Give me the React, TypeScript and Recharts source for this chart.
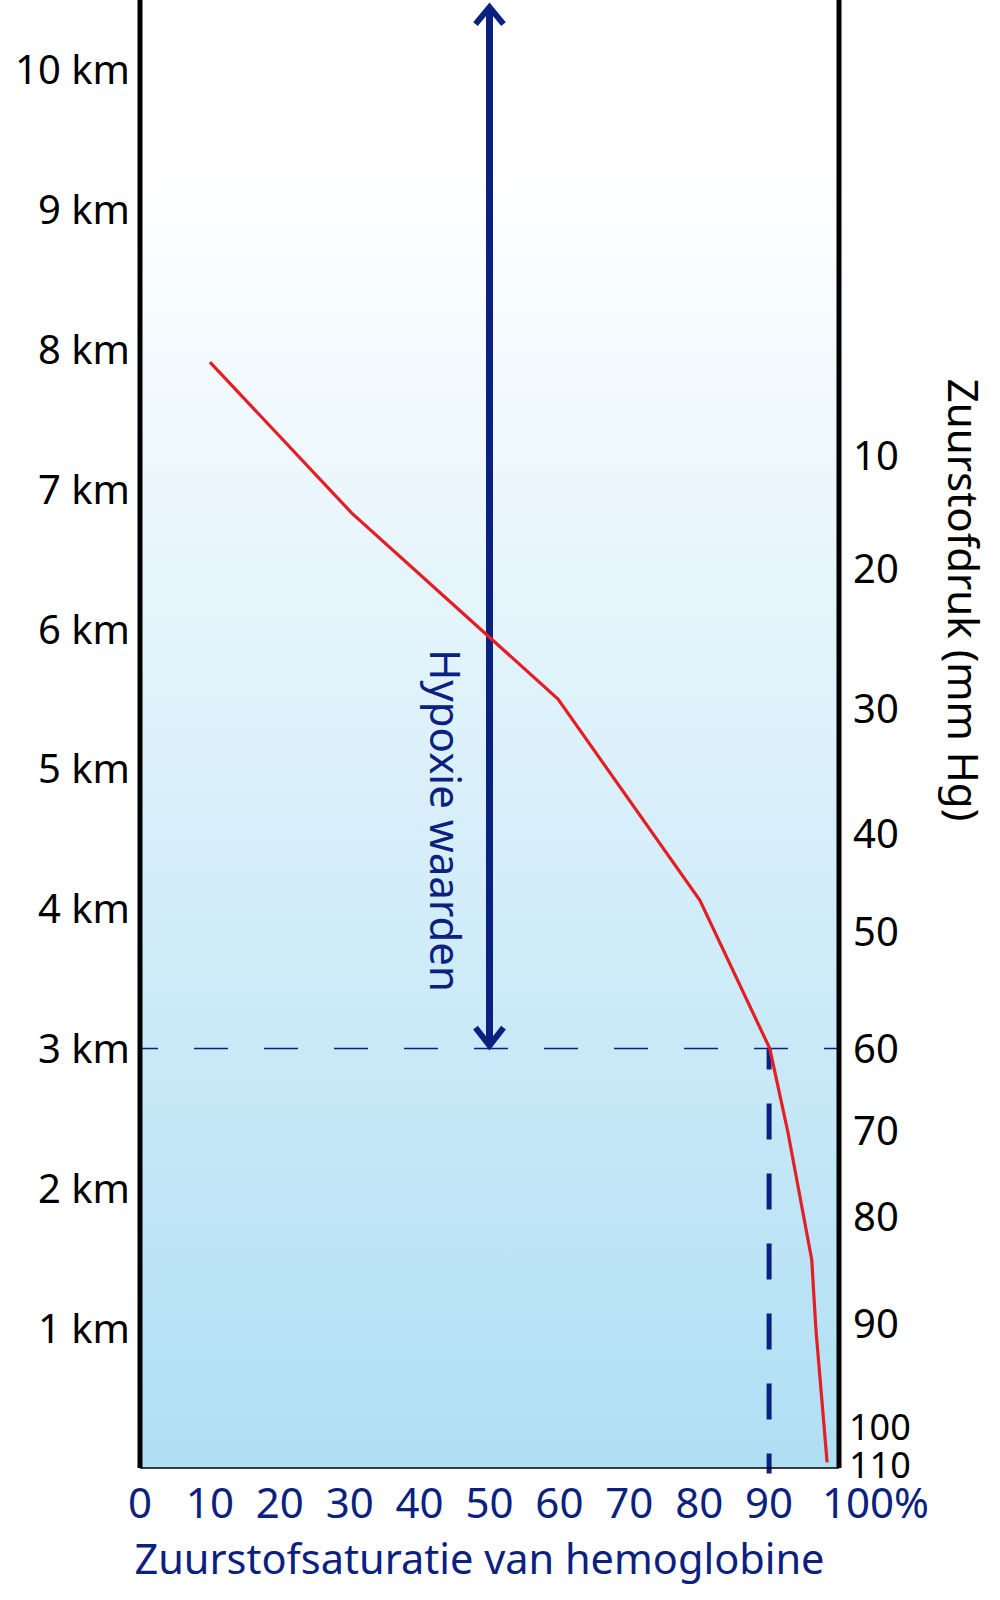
import { ComposedChart, Line, XAxis, YAxis, ReferenceArea, ReferenceLine } from "recharts";

// saturation (%) against altitude (km)
const saturation = [10, 30.3, 59.8, 80.1, 90.1, 92.7, 96.1, 96.7, 98.3];
const altitude = [7.91, 6.83, 5.5, 4.06, 3.0, 2.4, 1.49, 0.99, 0.04];

const saturationTicks = [0, 10, 20, 30, 40, 50, 60, 70, 80, 90, 100];
const altitudeTicks = [1, 2, 3, 4, 5, 6, 7, 8, 9, 10];

// oxygen pressure (mm Hg) labels on the right, and the altitude each sits at
const pressureLabels = [10, 20, 30, 40, 50, 60, 70, 80, 90, 100, 110];
const pressureAltitudes = [7.24, 6.43, 5.43, 4.54, 3.84, 3.0, 2.41, 1.8, 1.03, 0.29, 0.02];

const hypoxiaAltitude = 3;
const hypoxiaSaturation = 90;
const arrowSaturation = 50;
const arrowTop = 10.47;

const data = saturation.map((s, i) => ({ sat: s, alt: altitude[i] }));

const NAVY = "#0b2180";
const FONT = "'Noto Sans', sans-serif";

function SatTick({ x, y, payload }: any) {
  const last = payload.value === 100;
  return (
    <text
      x={last ? x - 17 : x}
      y={y + 50}
      textAnchor={last ? "start" : "middle"}
      fill={NAVY}
      fontSize={42}
      fontFamily={FONT}
    >
      {last ? "100%" : payload.value}
    </text>
  );
}

function KmTick({ x, y, payload }: any) {
  return (
    <text x={x - 10} y={y} dy="0.36em" textAnchor="end" fill="#000" fontSize={40} fontFamily={FONT}>
      {payload.value} km
    </text>
  );
}

function PressureTick({ x, y, payload }: any) {
  const i = pressureAltitudes.indexOf(payload.value);
  const small = pressureLabels[i] >= 100;
  return (
    <text
      x={x + (small ? 10 : 14)}
      y={y}
      dy="0.36em"
      textAnchor="start"
      fill="#000"
      fontSize={small ? 36 : 40}
      fontFamily={FONT}
    >
      {pressureLabels[i]}
    </text>
  );
}

function PressureTitle({ viewBox }: any) {
  const x = viewBox.x + 109;
  const y = viewBox.y + 600;
  return (
    <text
      x={x}
      y={y}
      transform={`rotate(90 ${x} ${y})`}
      textAnchor="middle"
      fill="#000"
      fontSize={42}
      fontFamily={FONT}
    >
      Zuurstofdruk (mm Hg)
    </text>
  );
}

function HypoxiaArrow(p: any) {
  const { x1, y1, x2, y2 } = p;
  const tx = x1 - 60;
  const ty = y1 - 228;
  return (
    <g>
      <line x1={x1} y1={y1 - 3} x2={x2} y2={y2 + 3} stroke={NAVY} strokeWidth={7} />
      <polyline
        points={`${x1 - 14},${y1 - 21} ${x1},${y1 - 3} ${x1 + 14},${y1 - 21}`}
        fill="none"
        stroke={NAVY}
        strokeWidth={6}
      />
      <polyline
        points={`${x2 - 14},${y2 + 20} ${x2},${y2 + 3} ${x2 + 14},${y2 + 20}`}
        fill="none"
        stroke={NAVY}
        strokeWidth={6}
      />
      <text
        x={tx}
        y={ty}
        transform={`rotate(90 ${tx} ${ty})`}
        textAnchor="middle"
        fill={NAVY}
        fontSize={42}
        fontFamily={FONT}
      >
        Hypoxie waarden
      </text>
    </g>
  );
}

export default function App() {
  return (
    <div style={{ position: "absolute", left: 0, top: 0, width: 1000, height: 1600, background: "#fff" }}>
      <ComposedChart width={1000} height={1600} data={data} margin={{ top: 0, right: 0, bottom: 0, left: 0 }}>
        <defs>
          <linearGradient id="sky" x1="0" y1="0" x2="0" y2="1">
            <stop offset="0" stopColor="#ffffff" />
            <stop offset="0.12" stopColor="#ffffff" />
            <stop offset="1" stopColor="#afdff4" />
          </linearGradient>
        </defs>
        <XAxis
          dataKey="sat"
          type="number"
          domain={[0, 100]}
          ticks={saturationTicks}
          interval={0}
          height={132}
          tickSize={0}
          tickMargin={0}
          tickLine={false}
          axisLine={{ stroke: "#000", strokeWidth: 1.5 }}
          tick={<SatTick />}
          label={{
            value: "Zuurstofsaturatie van hemoglobine",
            position: "insideBottom",
            offset: 26,
            dx: -10,
            fill: NAVY,
            fontSize: 41.5,
            fontFamily: FONT,
          }}
        />
        <YAxis
          yAxisId="left"
          type="number"
          domain={[0, 10.5]}
          allowDataOverflow
          ticks={altitudeTicks}
          interval={0}
          width={140}
          tickSize={0}
          tickMargin={0}
          tickLine={false}
          axisLine={{ stroke: "#000", strokeWidth: 5 }}
          tick={<KmTick />}
        />
        <YAxis
          yAxisId="right"
          orientation="right"
          type="number"
          domain={[0, 10.5]}
          allowDataOverflow
          ticks={pressureAltitudes}
          interval={0}
          width={161}
          tickSize={0}
          tickMargin={0}
          tickLine={false}
          axisLine={{ stroke: "#000", strokeWidth: 5 }}
          tick={<PressureTick />}
          label={{ content: <PressureTitle /> }}
        />
        <ReferenceArea
          yAxisId="left"
          x1={0}
          x2={100}
          y1={0}
          y2={10.5}
          fill="url(#sky)"
          fillOpacity={1}
          stroke="none"
        />
        <ReferenceLine
          yAxisId="left"
          y={hypoxiaAltitude}
          stroke={NAVY}
          strokeWidth={1.5}
          strokeDasharray="34 36"
          strokeDashoffset={16}
        />
        <ReferenceLine
          yAxisId="left"
          segment={[
            { x: hypoxiaSaturation, y: hypoxiaAltitude },
            { x: hypoxiaSaturation, y: -0.04 },
          ]}
          ifOverflow="visible"
          stroke={NAVY}
          strokeWidth={5}
          strokeDasharray="36 34"
          strokeDashoffset={15}
        />
        <ReferenceLine
          yAxisId="left"
          segment={[
            { x: arrowSaturation, y: hypoxiaAltitude },
            { x: arrowSaturation, y: arrowTop },
          ]}
          ifOverflow="visible"
          shape={(p: any) => <HypoxiaArrow {...p} />}
        />
        <Line
          yAxisId="left"
          dataKey="alt"
          stroke="#e31e24"
          strokeWidth={3.2}
          dot={false}
          activeDot={false}
          isAnimationActive={false}
        />
      </ComposedChart>
    </div>
  );
}
